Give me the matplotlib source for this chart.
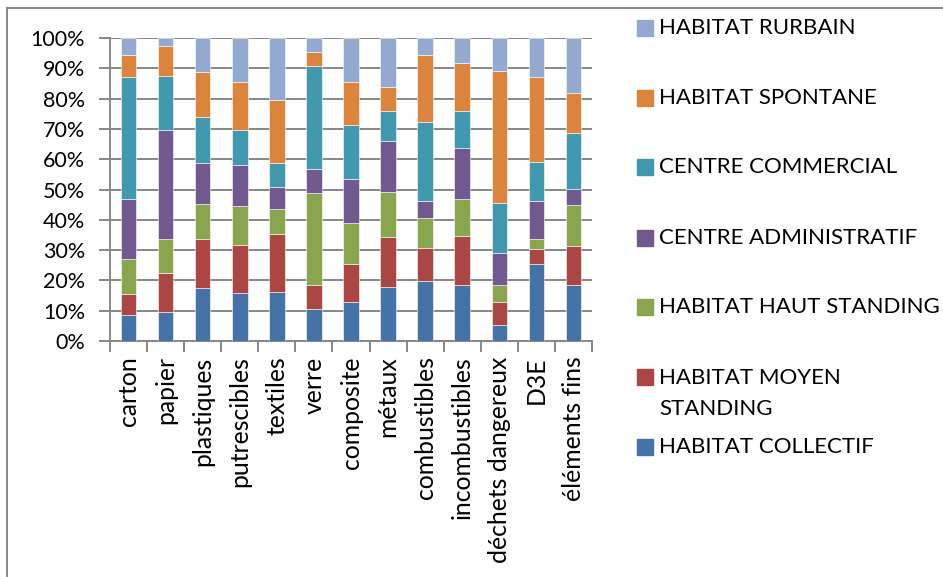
import matplotlib
matplotlib.use("Agg")
import matplotlib.pyplot as plt
from matplotlib.patches import Rectangle
from matplotlib.lines import Line2D
import numpy as np

categories = ["carton", "papier", "plastiques", "putrescibles", "textiles", "verre",
              "composite", "métaux", "combustibles", "incombustibles",
              "déchets dangereux", "D3E", "éléments fins"]

series_names = ["HABITAT COLLECTIF", "HABITAT MOYEN\nSTANDING", "HABITAT HAUT STANDING",
                "CENTRE ADMINISTRATIF", "CENTRE COMMERCIAL", "HABITAT SPONTANE",
                "HABITAT RURBAIN"]

habitat_collectif   = [8.5, 9.5, 17.4, 15.8, 16.2, 10.5, 12.9, 17.9, 19.7, 18.6, 5.2, 25.3, 18.5]
habitat_moyen       = [7.0, 12.8, 16.1, 15.8, 19.0, 8.0, 12.5, 16.5, 11.0, 16.1, 7.6, 5.0, 13.0]
habitat_haut        = [11.6, 11.5, 11.8, 12.8, 8.5, 30.2, 13.7, 14.9, 9.9, 12.0, 5.6, 3.4, 13.3]
centre_admin        = [19.6, 35.8, 13.5, 13.8, 7.0, 8.1, 14.3, 16.8, 5.6, 17.0, 10.6, 12.5, 5.3]
centre_commercial   = [40.4, 17.9, 15.2, 11.4, 8.2, 34.0, 17.9, 9.9, 26.2, 12.2, 16.5, 12.9, 18.4]
habitat_spontane    = [7.4, 9.9, 14.8, 15.9, 20.8, 4.7, 14.2, 7.9, 22.1, 15.9, 43.6, 28.0, 13.4]
habitat_rurbain     = [5.5, 2.6, 11.2, 14.5, 20.3, 4.5, 14.5, 16.1, 5.5, 8.2, 10.9, 12.9, 18.1]

colors = ["#4572A7", "#AA4643", "#89A54E", "#71588F", "#4198AF", "#DB843D", "#93A9CF"]

data = np.array([habitat_collectif, habitat_moyen, habitat_haut, centre_admin,
                 centre_commercial, habitat_spontane, habitat_rurbain], dtype=float)
pct = data / data.sum(axis=0) * 100

grey = "#878787"
fig = plt.figure(figsize=(9.43, 5.77), dpi=100)
ax = fig.add_axes([110/943, 1 - 341/577, (592-110)/943, (341-38)/577])

x = np.arange(len(categories))
bottom = np.zeros(len(categories))
for vals, c, name in zip(pct, colors, series_names):
    ax.bar(x, vals, bottom=bottom, width=0.42, color=c, edgecolor="white",
           linewidth=0.4, label=name, zorder=3)
    bottom += vals

ax.set_xlim(-0.5, len(categories) - 0.5)
ax.set_ylim(0, 100)
ax.set_yticks(np.arange(0, 101, 10))
ax.set_yticklabels([f"{v}%" for v in range(0, 101, 10)],
                   fontfamily="Lato", fontsize=15.5)
ax.yaxis.grid(True, color=grey, linewidth=1.4, zorder=0)
ax.tick_params(axis="y", length=8, width=1.4, color=grey, pad=10)

ax.set_xticks(x)
ax.set_xticklabels(categories, rotation=90, fontfamily="Lato", fontsize=17.8)
ax.set_xticks(np.arange(-0.5, len(categories), 1), minor=True)
ax.tick_params(axis="x", which="major", length=0, pad=11)
ax.tick_params(axis="x", which="minor", length=8, width=1.4, color=grey)

for s in ["top", "right"]:
    ax.spines[s].set_visible(False)
ax.spines["left"].set_color(grey)
ax.spines["left"].set_linewidth(1.4)
ax.spines["bottom"].set_color(grey)
ax.spines["bottom"].set_linewidth(1.4)

# Legend drawn manually (reverse order, top to bottom)
legend_y = [28, 98, 167, 238, 307, 377, 447]
for name, c, yy in zip(series_names[::-1], colors[::-1], legend_y):
    fig.patches.append(Rectangle((637/943, 1 - (yy + 8)/577), 16/943, 16/577,
                                 transform=fig.transFigure, color=c))
    if "\n" in name:
        fig.text(659/943, 1 - (yy - 9)/577, name, fontfamily="Lato", fontsize=16,
                 va="top", ha="left", linespacing=1.7)
    else:
        fig.text(659/943, 1 - yy/577, name, fontfamily="Lato", fontsize=16,
                 va="center", ha="left")

# outer chart frame
fig.lines.append(Line2D([7/943, 7/943], [0, 1 - 8/577], transform=fig.transFigure,
                        color=grey, linewidth=1.4))
fig.lines.append(Line2D([7/943, 1], [1 - 8/577, 1 - 8/577], transform=fig.transFigure,
                        color=grey, linewidth=1.4))

fig.savefig("out.png", dpi=100)
